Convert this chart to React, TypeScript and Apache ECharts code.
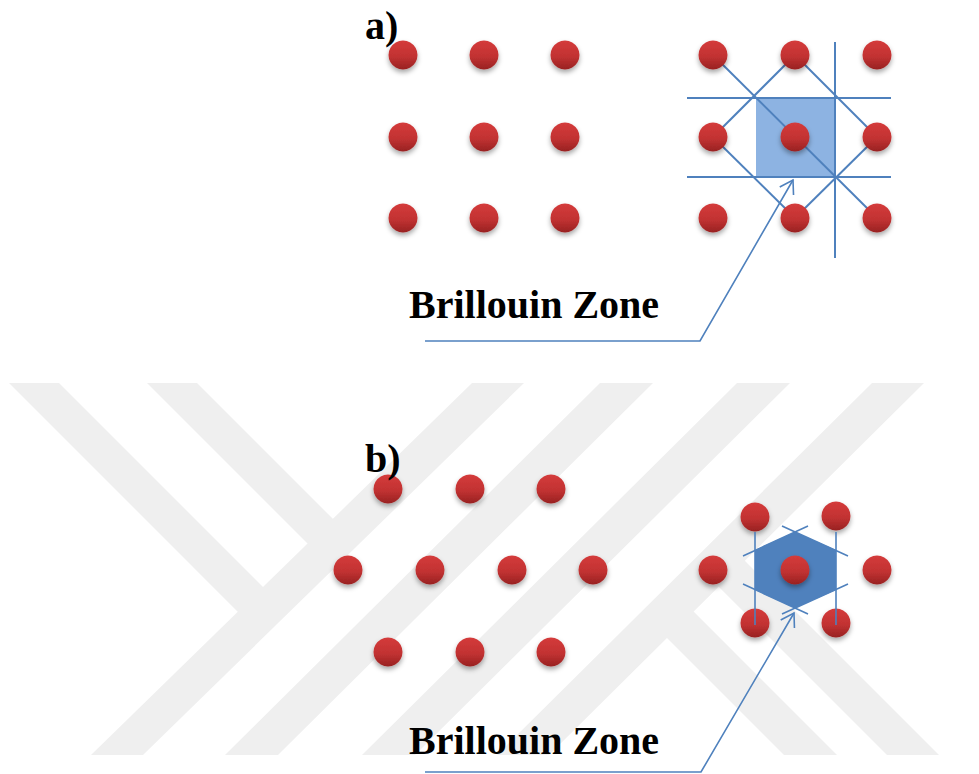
import React, { useEffect, useRef } from 'react';
import * as echarts from 'echarts';

const W = 979;
const H = 774;

// ---- lattice points (pixel-space data coordinates) ----
const squareLatticeLeft: number[][] = [
  [403, 55], [484, 55], [565, 55],
  [403, 137], [484, 137], [565, 137],
  [403, 218], [484, 218], [565, 218],
];
const squareLatticeRight: number[][] = [
  [713, 55], [795, 55], [877, 55],
  [713, 137], [795, 137], [877, 137],
  [713, 218], [795, 218], [877, 218],
];
const hexLatticeLeft: number[][] = [
  [388, 489], [470, 489], [551, 489],
  [348, 570], [430, 570], [512, 570], [593, 570],
  [388, 652], [470, 652], [551, 652],
];
const hexLatticeRight: number[][] = [
  [755, 517], [836, 516],
  [713, 570], [795, 570], [877, 570],
  [755, 623], [836, 623],
];

// ---- Brillouin zones ----
const squareCell: number[][] = [[756, 98], [834, 98], [834, 177], [756, 177]];
const hexCell: number[][] = [[795, 532], [836, 550], [836, 590], [795, 608], [755, 590], [755, 550]];

// ---- construction lines ----
const squareLines: number[][][] = [
  [[687, 98], [891, 98]],
  [[687, 177], [891, 177]],
  [[835, 42], [835, 258]],
  [[713, 55], [877, 218]],
  [[713, 137], [795, 55]],
  [[795, 55], [877, 137]],
  [[877, 137], [795, 218]],
  [[713, 137], [795, 218]],
];
const hexLines: number[][][] = [
  [[755, 532], [755, 625]],
  [[836, 532], [836, 625]],
  [[743, 556], [808, 526]],
  [[782, 526], [848, 556]],
  [[743, 584], [808, 614]],
  [[782, 614], [848, 584]],
];

// ---- arrows ----
const arrowA: number[][] = [[425, 341], [700, 341], [793, 180]];
const arrowB: number[][] = [[425, 772], [701, 772], [794, 613]];

// ---- watermark bands ----
const wmTop = 383;
const wmBottom = 755;
// [bottom-left x, top-left x, width]
const slashBands: number[][] = [[91, 472, 52], [225, 600, 53], [362, 737, 53], [497, 872, 52]];
// arms from the top edge joining band 0 on its left side: [x1, x2]
const armsTop: number[][] = [[9, 59], [147, 197]];
// arms from the bottom edge joining band 3 on its right side
const armsBottom: number[][] = [[784, 837], [887, 939]];

const BLUE = '#4f81bd';

function intersect(p: number[], d: number[], a: number[], b: number[]): number[] {
  const e = [b[0] - a[0], b[1] - a[1]];
  const den = d[0] * e[1] - d[1] * e[0];
  const t = ((a[0] - p[0]) * e[1] - (a[1] - p[1]) * e[0]) / den;
  return [p[0] + t * d[0], p[1] + t * d[1]];
}

function buildWatermark(): number[][][] {
  const polys: number[][][] = [];
  slashBands.forEach(([xb, xt, w]) => {
    polys.push([[xb, wmBottom], [xb + w, wmBottom], [xt + w, wmTop], [xt, wmTop]]);
  });
  const b0 = slashBands[0];
  const leftEdgeA = [b0[0] + 4, wmBottom];
  const leftEdgeB = [b0[1] + 4, wmTop];
  armsTop.forEach(([x1, x2]) => {
    const d = [1, 1];
    const p2 = intersect([x2, wmTop], d, leftEdgeA, leftEdgeB);
    const p1 = intersect([x1, wmTop], d, leftEdgeA, leftEdgeB);
    polys.push([[x1, wmTop], [x2, wmTop], p2, p1]);
  });
  const b3 = slashBands[3];
  const rightEdgeA = [b3[0] + b3[2] - 4, wmBottom];
  const rightEdgeB = [b3[1] + b3[2] - 4, wmTop];
  armsBottom.forEach(([x1, x2]) => {
    const d = [-1, -1];
    const p2 = intersect([x2, wmBottom], d, rightEdgeA, rightEdgeB);
    const p1 = intersect([x1, wmBottom], d, rightEdgeA, rightEdgeB);
    polys.push([[x1, wmBottom], [x2, wmBottom], p2, p1]);
  });
  return polys;
}

function polySeries(polys: number[][][], style: any, z: number) {
  return {
    type: 'custom',
    z,
    silent: true,
    clip: false,
    encode: { x: 0, y: 1 },
    data: polys.map((p) => p[0]),
    renderItem: (params: any, api: any) => {
      const pts = polys[params.dataIndex].map((pt) => api.coord(pt));
      return { type: 'polygon', shape: { points: pts }, style };
    },
  };
}

function lineSeries(lines: number[][][], width: number, z: number) {
  return {
    type: 'custom',
    z,
    silent: true,
    clip: false,
    encode: { x: 0, y: 1 },
    data: lines.map((l) => l[0]),
    renderItem: (params: any, api: any) => {
      const pts = lines[params.dataIndex].map((pt) => api.coord(pt));
      return { type: 'polyline', shape: { points: pts }, style: { stroke: BLUE, lineWidth: width, fill: null } };
    },
  };
}

function arrowSeries(arrows: number[][][], z: number) {
  return {
    type: 'custom',
    z,
    silent: true,
    clip: false,
    encode: { x: 0, y: 1 },
    data: arrows.map((a) => a[0]),
    renderItem: (params: any, api: any) => {
      const pts = arrows[params.dataIndex].map((pt) => api.coord(pt));
      const tip = pts[pts.length - 1];
      const prev = pts[pts.length - 2];
      const dx = tip[0] - prev[0];
      const dy = tip[1] - prev[1];
      const len = Math.hypot(dx, dy);
      const ux = dx / len;
      const uy = dy / len;
      const L = 15;
      const th = (32 * Math.PI) / 180;
      const rot = (s: number) => [
        tip[0] - L * (ux * Math.cos(s * th) - uy * Math.sin(s * th)),
        tip[1] - L * (ux * Math.sin(s * th) + uy * Math.cos(s * th)),
      ];
      return {
        type: 'group',
        children: [
          { type: 'polyline', shape: { points: pts }, style: { stroke: BLUE, lineWidth: 1.6, fill: null } },
          { type: 'polyline', shape: { points: [rot(1), tip, rot(-1)] }, style: { stroke: BLUE, lineWidth: 1.6, fill: null } },
        ],
      };
    },
  };
}

const dotStyle = () => ({
  opacity: 1,
  color: new echarts.graphic.LinearGradient(0, 0, 0, 1, [
    { offset: 0, color: '#d43b3b' },
    { offset: 0.55, color: '#c23232' },
    { offset: 1, color: '#982222' },
  ]),
  shadowBlur: 5,
  shadowOffsetY: 3,
  shadowColor: 'rgba(0,0,0,0.35)',
});

function dotSeries(points: number[][], z: number) {
  return {
    type: 'scatter',
    z,
    silent: true,
    symbol: 'circle',
    symbolSize: 29,
    itemStyle: dotStyle(),
    data: points,
  };
}

const FONT = 'bold 40px "Liberation Serif", "Times New Roman", serif';

export default function App() {
  const ref = useRef<HTMLDivElement>(null);
  useEffect(() => {
    if (!ref.current) return;
    const chart = echarts.init(ref.current, null, { renderer: 'svg', width: W, height: H });
    const option: any = {
      animation: false,
      backgroundColor: '#ffffff',
      grid: { left: 0, right: 0, top: 0, bottom: 0, containLabel: false },
      xAxis: { type: 'value', min: 0, max: W, show: false },
      yAxis: { type: 'value', min: 0, max: H, inverse: true, show: false },
      series: [
        polySeries(buildWatermark(), { fill: '#efefef' }, 1),
        polySeries([squareCell], { fill: '#8db3e2' }, 2),
        polySeries([hexCell], { fill: '#4f81bd' }, 2),
        lineSeries(squareLines, 2, 3),
        dotSeries(squareLatticeLeft, 4),
        dotSeries(squareLatticeRight, 4),
        dotSeries(hexLatticeLeft, 4),
        dotSeries(hexLatticeRight, 4),
        lineSeries(hexLines, 1.6, 5),
        arrowSeries([arrowA, arrowB], 5),
      ],
      graphic: [
        { type: 'text', x: 365, y: 25.5, z: 10, style: { text: 'a)', font: FONT, fill: '#000', verticalAlign: 'middle' } },
        { type: 'text', x: 365, y: 458.5, z: 10, style: { text: 'b)', font: FONT, fill: '#000', verticalAlign: 'middle' } },
        { type: 'text', x: 409, y: 304.5, z: 10, style: { text: 'Brillouin Zone', font: FONT, fill: '#000', verticalAlign: 'middle' } },
        { type: 'text', x: 409, y: 740.5, z: 10, style: { text: 'Brillouin Zone', font: FONT, fill: '#000', verticalAlign: 'middle' } },
      ],
    };
    chart.setOption(option);
    return () => chart.dispose();
  }, []);
  return (
    <div
      ref={ref}
      style={{ position: 'fixed', left: 0, top: 0, width: W, height: H, background: '#fff' }}
    />
  );
}
